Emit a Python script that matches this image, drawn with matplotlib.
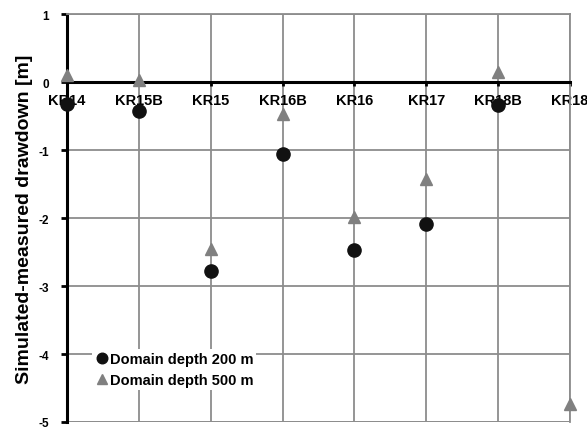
import numpy as np
import matplotlib
matplotlib.use("Agg")
import matplotlib.pyplot as plt

plt.rcParams['font.family'] = 'Liberation Sans'
plt.rcParams['font.weight'] = 'bold'

# data
wells = ['KR14', 'KR15B', 'KR15', 'KR16B', 'KR16', 'KR17', 'KR18B', 'KR18']
depth_200 = [-0.32, -0.43, -2.78, -1.06, -2.47, -2.08, -0.33, np.nan]
depth_500 = [0.10, 0.03, -2.45, -0.47, -1.99, -1.43, 0.15, -4.73]
y_ticks = [1, 0, -1, -2, -3, -4, -5]

x_pos = np.arange(len(wells))

fig = plt.figure(figsize=(5.87, 4.31), dpi=100)
ax = fig.add_axes([0.114, 0.0186, 0.857, 0.946])

grid_col = '#8c8c8c'
ax.plot(x_pos, depth_500, '^', color='#808080', markersize=9, label='Domain depth 500 m',
        zorder=4, clip_on=False)
ax.plot(x_pos, depth_200, 'o', color='#111111', markersize=9.5, label='Domain depth 200 m',
        zorder=5, clip_on=False)

ax.set_xlim(0, 7)
ax.set_ylim(-5, 1)

ax.grid(True, color=grid_col, linewidth=1.3, zorder=0)
ax.set_axisbelow(True)

ax.spines['bottom'].set_position(('data', 0))
ax.spines['bottom'].set_linewidth(2.2)
ax.spines['left'].set_linewidth(2.2)
ax.spines['top'].set_color(grid_col)
ax.spines['right'].set_color(grid_col)
ax.spines['top'].set_linewidth(1.3)
ax.spines['right'].set_linewidth(1.3)
ax.tick_params(axis='x', direction='out', length=3, width=2, pad=5)
ax.tick_params(axis='y', direction='out', length=4, width=2, pad=9)

ax.set_yticks(y_ticks)
ax.set_yticklabels([str(v) for v in y_ticks], fontsize=8.5)
ax.set_xticks(x_pos)
ax.set_xticklabels(wells, fontsize=10.5)
for lbl in ax.get_xticklabels() + ax.get_yticklabels():
    lbl.set_fontweight('bold')

# bottom gridline at -5
ax.axhline(-5, color=grid_col, linewidth=1.3, zorder=0)

ax.set_ylabel('Simulated-measured drawdown [m]', fontweight='bold', fontsize=14, labelpad=4)

handles, labels = ax.get_legend_handles_labels()
leg = ax.legend(handles[::-1], labels[::-1], loc='lower left', bbox_to_anchor=(0.035, 0.06),
                frameon=True, framealpha=1, edgecolor='white', fancybox=False,
                prop={'weight': 'bold', 'size': 10.5},
                handletextpad=0.05, handlelength=1.0, borderpad=0.2, labelspacing=0.5,
                markerscale=0.8)
leg.get_frame().set_linewidth(0)

plt.savefig('out.png', dpi=100)
